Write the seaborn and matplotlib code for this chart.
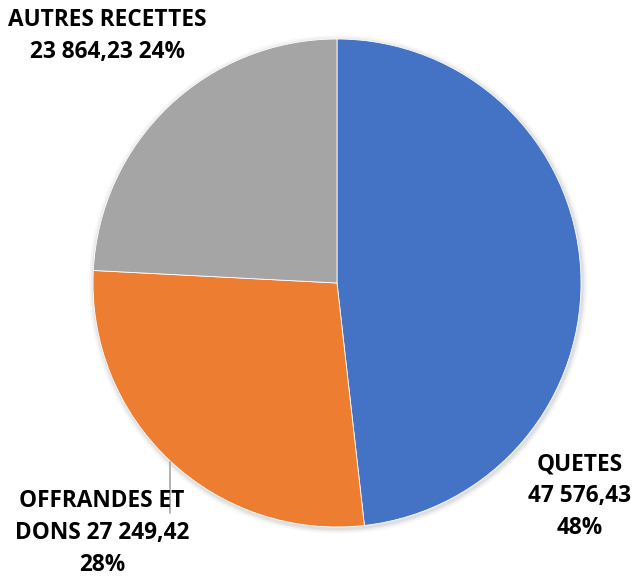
import matplotlib
matplotlib.use("Agg")
import matplotlib.pyplot as plt
import seaborn as sns

categories = ["QUETES", "OFFRANDES ET DONS", "AUTRES RECETTES"]
values = [47576.43, 27249.42, 23864.23]
labels = ["QUETES\n47 576,43\n48%", "OFFRANDES ET\nDONS 27 249,42\n28%", "AUTRES RECETTES\n23 864,23 24%"]
colors = ["#4472C4", "#ED7D31", "#A5A5A5"]

sns.set_theme(style="white")
plt.rcParams['font.family'] = ['Open Sans', 'DejaVu Sans']

W, H = 636, 579
fig = plt.figure(figsize=(W / 100, H / 100), dpi=100)
ax = fig.add_axes([0, 0, 1, 1])

cx, cy, r = 337, H - 283, 244
# subtle shadow
for k, a in [(5, 0.15), (3, 0.25), (1.5, 0.35)]:
    ax.pie(values, colors=["#c8c8c8"] * 3, startangle=90, counterclock=False,
           radius=r + k, center=(cx + 1, cy - 1.5), frame=True,
           wedgeprops=dict(linewidth=0, alpha=a))
ax.pie(values, colors=colors, startangle=90, counterclock=False,
       radius=r, center=(cx, cy), frame=True,
       wedgeprops=dict(linewidth=0.6, edgecolor=None))
ax.set_xlim(0, W)
ax.set_ylim(0, H)
ax.axis("off")

txt = dict(ha="center", va="center", fontsize=16.3, fontweight="bold",
           color="black", linespacing=1.42)
ax.text(580, H - 496, labels[0], **txt)
ax.text(102, H - 533, labels[1], **txt)
ax.text(107, H - 36, labels[2], **txt)
ax.plot([170, 170], [H - 462, H - 513], color="#a6a6a6", lw=1.2)

fig.savefig("out.png", dpi=100)
